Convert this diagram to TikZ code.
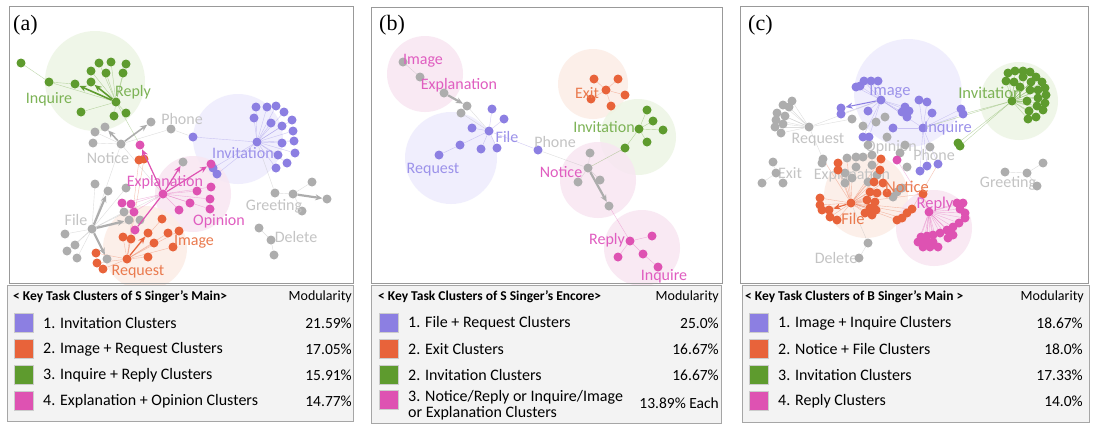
\documentclass[tikz,border=0pt]{standalone}
\usepackage{fontspec}
\setmainfont{Carlito}
\newfontfamily\tagfont{Liberation Serif}
\usetikzlibrary{arrows.meta,positioning}

\definecolor{cinv}{HTML}{8C7FE2}
\definecolor{cimg}{HTML}{E8633A}
\definecolor{cinq}{HTML}{5E9B2E}
\definecolor{cexp}{HTML}{DE52B2}
\definecolor{cgry}{HTML}{ADADAD}
\definecolor{tinv}{HTML}{9C92EA}
\definecolor{timg}{HTML}{EA7A4E}
\definecolor{tinq}{HTML}{7DB356}
\definecolor{texp}{HTML}{E05DC0}
\definecolor{tgry}{HTML}{C4C4C4}
\definecolor{hinv}{HTML}{EEECFD}
\definecolor{himg}{HTML}{FCEDE6}
\definecolor{hinq}{HTML}{EDF5E4}
\definecolor{hexp}{HTML}{F8E6F2}
\definecolor{legfill}{HTML}{F3F3F3}

\pgfdeclarelayer{hulls}
\pgfdeclarelayer{edges}
\pgfsetlayers{hulls,edges,main}

\tikzset{
  dot/.style={circle, inner sep=0pt, minimum size=9pt},
  pdot/.style={dot, fill=cinv},
  odot/.style={dot, fill=cimg},
  gdot/.style={dot, fill=cinq},
  mdot/.style={dot, fill=cexp},
  ydot/.style={dot, fill=cgry},
  edge/.style={line width=0.4pt, opacity=0.4},
  big/.style={line width=1.6pt, -{Stealth[length=7pt,width=6pt]}},
  hull/.style={opacity=0.85},
  lab/.style={font=\fontsize{16}{18}\selectfont, inner sep=0pt},
  frame/.style={draw=black!40, line width=0.6pt},
  legbox/.style={draw=black!35, fill=legfill, line width=0.5pt},
  swatch/.style={draw=black!20, minimum size=19pt, inner sep=0pt},
  legtext/.style={anchor=west, font=\fontsize{16}{16}\selectfont, inner sep=0pt, align=left},
  legnum/.style={anchor=east, font=\fontsize{15.5}{16}\selectfont, inner sep=0pt},
  legtitle/.style={anchor=west, font=\bfseries\fontsize{13.5}{15}\selectfont, inner sep=0pt},
  legmod/.style={anchor=east, font=\fontsize{14}{16}\selectfont, inner sep=0pt},
  paneltag/.style={anchor=north west, font=\tagfont\fontsize{22}{24}\selectfont, inner sep=0pt}
}

\begin{document}
\begin{tikzpicture}[x=1pt, y=-1pt]
    \useasboundingbox (0,0) rectangle (1095,429);
    \begin{pgfonlayer}{hulls}
        \fill[white] (0,0) rectangle (1095,429);
    \end{pgfonlayer}

    % ---------------- panel (a) ----------------
    \draw[frame] (9,6) rectangle (353,283);
    \node[paneltag] (taga) at (13,15) {(a)};

    % cluster hulls
    \begin{pgfonlayer}{hulls}
        \fill[hull, hinq] (95,81) circle (50);
        \fill[hull, hinv] (238,139) circle (45);
        \fill[hull, hexp] (193,194) circle (38);
        \fill[hull, himg] (145,248) circle (42);
    \end{pgfonlayer}

    % Inquire + Reply
    \node[gdot] (agh) at (116,102) {};
    \foreach \p [count=\i] in {(21,63),(49,82),(75,84),(91,82),(91,71),(99,63),(111,62),(126,64),(106,73),(123,73),(81,112),(114,116),(126,113)}
        \node[gdot] (ag\i) at \p {};

    % Notice + Phone
    \node[ydot] (ayh) at (121,144) {};
    \foreach \p [count=\i] in {(95,132),(105,127),(93,143),(151,122),(171,129),(183,162)}
        \node[ydot] (ay\i) at \p {};

    % Invitation
    \node[pdot] (aph) at (257,142) {};
    \foreach \p [count=\i] in {(256,107),(267,107),(276,106),(284,112),(292,120),(293,131),(294,141),(295,153),(287,163),(276,168),(278,155),(282,143),(282,126),(271,123),(254,118),(193,137),(213,168),(217,174)}
        \node[pdot] (ap\i) at \p {};

    % Explanation + Opinion
    \node[mdot] (amh) at (163,194) {};
    \foreach \p [count=\i] in {(140,145),(211,164),(197,191),(211,187),(190,203),(210,199),(210,209),(179,210),(122,203),(131,204),(134,212),(135,230)}
        \node[mdot] (am\i) at \p {};

    % Image + Request
    \node[odot] (aoh) at (127,259) {};
    \foreach \p [count=\i] in {(139,160),(144,159),(162,219),(148,233),(168,233),(179,231),(154,243),(173,247),(148,257),(123,237),(131,239),(96,253),(97,263),(103,269)}
        \node[odot] (ao\i) at \p {};

    % File
    \node[ydot] (afh) at (92,229) {};
    \foreach \p [count=\i] in {(95,184),(108,191),(126,188),(124,212),(129,220),(140,220),(65,234),(75,245),(67,251),(77,258),(107,259)}
        \node[ydot] (af\i) at \p {};

    % Greeting, Delete
    \node[ydot] (aeh) at (293,194) {};
    \foreach \p [count=\i] in {(312,182),(275,193),(327,199),(302,211)}
        \node[ydot] (ae\i) at \p {};
    \foreach \p [count=\i] in {(259,228),(271,240),(274,255)}
        \node[ydot] (ad\i) at \p {};

    \begin{pgfonlayer}{edges}
        \foreach \i in {2,5,6,7,8,9,10,11,12,13} \draw[edge, cinq] (agh) -- (ag\i);
        \draw[edge, cinq] (ag1) -- (ag2);
        \draw[edge, cinq] (ag2) -- (ag3);
        \draw[edge, cinq] (agh) -- (am1);
        \foreach \i in {1,3,5} \draw[edge, cgry] (ayh) -- (ay\i);
        \foreach \i in {1,...,18} \draw[edge, cinv] (aph) -- (ap\i);
        \foreach \i in {3,...,11} \draw[edge, cexp] (amh) -- (am\i);
        \foreach \i in {1,2,3,5,6,7,8,9,10,11,12,13,14} \draw[edge, cimg] (aoh) -- (ao\i);
        \foreach \i in {1,3,4,6,7,8,9,10} \draw[edge, cgry] (afh) -- (af\i);
        \foreach \i in {1,2,4} \draw[edge, cgry] (aeh) -- (ae\i);
        \draw[edge, cgry] (ad1) -- (ad2);
        \draw[edge, cgry] (ad2) -- (ad3);
        \draw[edge, cgry] (aph) -- (ae2);
        \draw[edge, cgry] (ayh) -- (amh);
        \draw[edge, cgry] (ay5) -- (ap16);
        \draw[edge, cgry] (afh) -- (amh);
        \draw[edge, cgry] (ayh) -- (afh);
    \end{pgfonlayer}

    \draw[big, cinq] (agh) -- (ag3);
    \draw[big, cinq] (agh) -- (ag4);
    \draw[big, cgry] (ayh) -- (ay2);
    \draw[big, cgry] (ayh) -- (ay4);
    \draw[big, cexp, line width=1.2pt] (amh) -- (am1);
    \draw[big, cexp, line width=1.2pt] (amh) -- (ay6);
    \draw[big, cexp, line width=1.2pt] (amh) -- (am2);
    \draw[cexp, line width=1.2pt] (amh) -- (am12);
    \draw[big, cimg, line width=1.2pt] (aoh) -- (ao4);
    \draw[big, cgry, line width=2.2pt] (afh) -- (af2);
    \draw[big, cgry, line width=2.2pt] (afh) -- (af5);
    \draw[big, cgry, line width=2.2pt] (afh) -- (af11);
    \draw[big, cgry, line width=2.2pt] (aeh) -- (ae3);

    % labels
    \node[lab, tinq] (laInq) at (49,99) {Inquire};
    \node[lab, tinq] (laRep) at (133,92) {Reply};
    \node[lab, tgry] (laPho) at (182,119) {Phone};
    \node[lab, tgry] (laNot) at (108,158) {Notice};
    \node[lab, tinv] (laInv) at (243,153) {Invitation};
    \node[lab, texp] (laExp) at (165,182) {Explanation};
    \node[lab, texp] (laOpi) at (219,221) {Opinion};
    \node[lab, tgry] (laFil) at (76,220) {File};
    \node[lab, timg] (laImg) at (194,242) {Image};
    \node[lab, timg] (laReq) at (138,272) {Request};
    \node[lab, tgry] (laGre) at (274,206) {Greeting};
    \node[lab, tgry] (laDel) at (296,237) {Delete};

    % legend (a)
    \draw[legbox] (7,285) rectangle (353,421);
    \node[legtitle] (lta) at (13,297) {< Key Task Clusters of S Singer's Main>};
    \node[legmod] (lma) at (352,297) {Modularity};
    \foreach \c/\t/\v [count=\i] in {cinv/1. Invitation Clusters/21.59\%, cimg/2. Image + Request Clusters/17.05\%, cinq/3. Inquire + Reply Clusters/15.91\%, cexp/4. Explanation + Opinion Clusters/14.77\%} {
        \node[swatch, fill=\c] (lsa\i) at (23.5,297+26*\i) {};
        \node[legtext] (lxa\i) at (43,297+26*\i) {\t};
        \node[legnum] (lva\i) at (352,297+26*\i) {\v};
    }

    % ---------------- panel (b) ----------------
    \draw[frame] (371,7) rectangle (722,283);
    \node[paneltag] (tagb) at (379,15) {(b)};

    \begin{pgfonlayer}{hulls}
        \fill[hull, hexp] (425,74) circle (38);
        \fill[hull, hinv] (451,158) circle (46);
        \fill[hull, himg] (593,84) circle (35);
        \fill[hull, hinq] (638,137) circle (38);
        \fill[hull, hexp] (598,180) circle (38);
        \fill[hull, hexp] (642,248) circle (38);
    \end{pgfonlayer}

    % Image / Explanation chain
    \foreach \p [count=\i] in {(403,62),(420,77),(444,93),(467,106),(461,113)}
        \node[ydot] (bx\i) at \p {};
    % File + Request
    \node[pdot] (bph) at (489,131) {};
    \foreach \p [count=\i] in {(492,109),(504,119),(472,128),(460,145),(481,149),(497,148),(439,155),(538,150)}
        \node[pdot] (bp\i) at \p {};
    % Exit
    \node[odot] (boh) at (606,90) {};
    \foreach \p [count=\i] in {(594,79),(618,79),(591,99),(625,95),(611,106)}
        \node[odot] (bo\i) at \p {};
    % Invitation
    \node[gdot] (bgh) at (639,129) {};
    \foreach \p [count=\i] in {(647,110),(653,121),(663,130),(647,142),(625,148)}
        \node[gdot] (bg\i) at \p {};
    % Notice
    \node[ydot] (byh) at (588,168) {};
    \foreach \p [count=\i] in {(590,153),(600,180),(578,182),(609,206)}
        \node[ydot] (by\i) at \p {};
    % Reply / Inquire
    \node[mdot] (bmh) at (630,241) {};
    \foreach \p [count=\i] in {(652,236),(618,257),(643,254),(658,267)}
        \node[mdot] (bm\i) at \p {};

    \begin{pgfonlayer}{edges}
        \draw[edge, cgry] (bx1) -- (bx2);
        \draw[edge, cgry] (bx2) -- (bx3);
        \draw[edge, cgry] (bx4) -- (bph);
        \draw[edge, cgry] (bx5) -- (bph);
        \foreach \i in {1,...,6,8} \draw[edge, cinv] (bph) -- (bp\i);
        \draw[edge, cinv] (bp7) -- (bp4);
        \foreach \i in {1,...,5} \draw[edge, cimg] (boh) -- (bo\i);
        \foreach \i in {1,...,5} \draw[edge, cinq] (bgh) -- (bg\i);
        \foreach \i in {1,2,3} \draw[edge, cgry] (byh) -- (by\i);
        \foreach \i in {1,2,3} \draw[edge, cexp] (bmh) -- (bm\i);
        \draw[edge, cexp] (bm3) -- (bm4);
        \draw[edge, cexp] (bmh) -- (by4);
        \draw[edge, cgry] (bp8) -- (byh);
        \draw[edge, cinq] (bg5) -- (byh);
    \end{pgfonlayer}
    \draw[big, cgry, line width=2.2pt] (bx3) -- (bx4);
    \draw[big, cgry, line width=2.2pt] (byh) -- (by4);

    \node[lab, texp] (lbImg) at (423,61) {Image};
    \node[lab, texp] (lbExp) at (459,85) {Explanation};
    \node[lab, tinv] (lbFil) at (507,137) {File};
    \node[lab, tinv] (lbReq) at (433,170) {Request};
    \node[lab, tgry] (lbPho) at (555,142) {Phone};
    \node[lab, timg] (lbExi) at (587,93) {Exit};
    \node[lab, tinq] (lbInv) at (604,127) {Invitation};
    \node[lab, texp] (lbNot) at (561,172) {Notice};
    \node[lab, texp] (lbRep) at (607,240) {Reply};
    \node[lab, texp] (lbInq) at (664,276) {Inquire};

    % legend (b)
    \draw[legbox] (371,285) rectangle (721,423);
    \node[legtitle] (ltb) at (378,297) {< Key Task Clusters of S Singer's Encore>};
    \node[legmod] (lmb) at (719,297) {Modularity};
    \foreach \c/\t/\v [count=\i] in {cinv/1. File + Request Clusters/25.0\%, cimg/2. Exit Clusters/16.67\%, cinq/2. Invitation Clusters/16.67\%} {
        \node[swatch, fill=\c] (lsb\i) at (388.5,297+26*\i) {};
        \node[legtext] (lxb\i) at (408,297+26*\i) {\t};
        \node[legnum] (lvb\i) at (719,297+26*\i) {\v};
    }
    \node[swatch, fill=cexp] (lsb4) at (388.5,400) {};
    \node[legtext] (lxb4) at (408,405) {3. Notice/Reply or Inquire/Image\\or Explanation Clusters};
    \node[legnum] (lvb4) at (719,403) {13.89\% Each};

    % ---------------- panel (c) ----------------
    \draw[frame] (740,6) rectangle (1088,283);
    \node[paneltag] (tagc) at (748,15) {(c)};

    \begin{pgfonlayer}{hulls}
        \fill[hull, hinv] (908,93) circle (54);
        \fill[hull, hinq] (1019,101) circle (39);
        \fill[hull, himg] (866,196) circle (42);
        \fill[hull, hexp] (934,228) circle (38);
    \end{pgfonlayer}

    % gray labels lie under the dots
    \node[lab, tgry] (lcReq) at (818,140) {Request};
    \node[lab, tgry] (lcOpi) at (891,147) {Opinion};
    \node[lab, tgry] (lcPho) at (934,155) {Phone};
    \node[lab, tgry] (lcExi) at (790,173) {Exit};
    \node[lab, tgry] (lcExp) at (852,175) {Explanation};
    \node[lab, tgry] (lcGre) at (1008,183) {Greeting};
    \node[lab, tgry] (lcDel) at (836,258) {Delete};

    \begin{scope}[every node/.append style={minimum size=8pt}]
    % Image + Inquire
    \node[pdot] (cih) at (881,100) {};
    \foreach \p [count=\i] in {(856,87),(860,86),(864,81),(871,81),(878,81),(841,108),(841,114),(868,111),(905,107),(902,112),(907,117),(909,111),(863,137),(869,137)}
        \node[pdot] (ci\i) at \p {};
    \node[pdot] (cqh) at (923,128) {};
    \foreach \p [count=\i] in {(919,100),(927,102),(932,113),(893,128),(961,109),(963,114),(920,171),(927,166),(938,164)}
        \node[pdot] (cq\i) at \p {};
    % Invitation
    \node[gdot] (cgh) at (1012,101) {};
    \foreach \p [count=\i] in {(1008,73),(1015,71),(1023,71),(1030,72),(1036,77),(1042,82),(1045,88),(1046,95),(1045,103),(1043,110),(1036,117),(1028,119),(1029,111),(1037,106),(1038,98),(1038,90),(1030,90),(1031,82),(1023,77),(1014,82),(1006,81),(1020,87),(1027,101),(958,143),(960,146)}
        \node[gdot] (cg\i) at \p {};
    % Request, Exit
    \node[ydot] (crh) at (809,127) {};
    \foreach \p [count=\i] in {(792,101),(789,107),(783,105),(785,116),(777,113),(776,120),(783,124),(775,127),(781,133)}
        \node[ydot] (cr\i) at \p {};
    \node[ydot] (cxh) at (776,173) {};
    \foreach \p [count=\i] in {(773,162),(762,183),(783,183)}
        \node[ydot] (cx\i) at \p {};
    % middle gray tasks
    \foreach \p [count=\i] in {(852,119),(863,126),(876,122),(885,117),(887,137),(868,145),(905,145),(900,153),(930,147),(907,167),(823,159),(822,163),(847,158),(856,157),(863,157),(872,155),(856,167),(872,165),(845,173),(852,178),(845,183),(868,182),(877,175),(897,192),(902,188),(893,197)}
        \node[ydot] (cz\i) at \p {};
    % Notice + File
    \node[odot] (coh) at (851,203) {};
    \foreach \p [count=\i] in {(820,198),(820,205),(822,210),(829,210),(830,217),(837,220),(838,163),(838,170),(881,159),(880,170),(874,182),(883,183),(870,192),(877,193),(887,193),(867,200),(875,202),(870,208),(876,210),(872,215),(865,213),(897,220),(902,218),(907,213),(912,209),(923,194)}
        \node[odot] (co\i) at \p {};
    % Reply
    \node[mdot] (cmh) at (929,212) {};
    \foreach \p [count=\i] in {(897,160),(957,203),(963,203),(960,209),(965,213),(965,218),(959,223),(953,227),(947,230),(940,233),(933,235),(927,236),(921,237),(918,242),(926,241),(933,242),(938,247),(930,247),(923,247),(953,235),(948,238)}
        \node[mdot] (cm\i) at \p {};
    % Greeting, Delete
    \foreach \p [count=\i] in {(1005,172),(1027,173),(1043,163),(1037,186)}
        \node[ydot] (ce\i) at \p {};
    \foreach \p [count=\i] in {(868,243),(859,258)}
        \node[ydot] (cd\i) at \p {};
    \end{scope}

    \begin{pgfonlayer}{edges}
        \foreach \i in {1,...,5,7,8,9,10,11,12,13,14} \draw[edge, cinv] (cih) -- (ci\i);
        \foreach \i in {1,...,9} \draw[edge, cinv] (cqh) -- (cq\i);
        \draw[edge, cinv] (cih) -- (cqh);
        \foreach \i in {1,...,25} \draw[edge, cinq] (cgh) -- (cg\i);
        \draw[edge, cinq] (cqh) -- (cgh);
        \draw[edge, cinq] (cq6) -- (cgh);
        \foreach \i in {1,...,9} \draw[edge, cgry] (crh) -- (cr\i);
        \draw[edge, cgry] (crh) -- (cih);
        \draw[edge, cgry] (crh) -- (cz1);
        \draw[edge, cgry] (crh) -- (cz11);
        \foreach \i in {1,2,3} \draw[edge, cgry] (cxh) -- (cx\i);
        \foreach \i in {1,...,26} \draw[edge, cimg] (coh) -- (co\i);
        \foreach \i in {11,13,19,20,22} \draw[edge, cimg] (coh) -- (cz\i);
        \foreach \i in {1,...,21} \draw[edge, cexp] (cmh) -- (cm\i);
        \draw[edge, cimg] (co26) -- (cmh);
        \draw[edge, cimg] (co25) -- (cq9);
        \draw[edge, cgry] (ce1) -- (ce2);
        \draw[edge, cgry] (ce2) -- (ce3);
        \draw[edge, cgry] (ce2) -- (ce4);
        \draw[edge, cgry] (cd1) -- (cd2);
        \draw[edge, cgry] (cd1) -- (coh);
    \end{pgfonlayer}
    \draw[big, cinv, line width=1pt] (cih) -- (ci6);
    \draw[big, cimg, line width=1pt] (coh) -- (co4);

    \node[lab, tinv, font=\fontsize{16.5}{18}\selectfont] (lcImg) at (890,92) {Image};
    \node[lab, tinq, font=\fontsize{16.5}{18}\selectfont] (lcInv) at (990,93) {Invitation};
    \node[lab, tinv, font=\fontsize{16.5}{18}\selectfont] (lcInq) at (948,128) {Inquire};
    \node[lab, timg, font=\fontsize{16.5}{18}\selectfont] (lcNot) at (907,187) {Notice};
    \node[lab, texp, font=\fontsize{16.5}{18}\selectfont] (lcRep) at (935,204) {Reply};
    \node[lab, timg, font=\fontsize{16.5}{18}\selectfont] (lcFil) at (853,219) {File};

    % legend (c)
    \draw[legbox] (742,285) rectangle (1089,422);
    \node[legtitle] (ltc) at (745,297) {< Key Task Clusters of B Singer's Main >};
    \node[legmod] (lmc) at (1084,297) {Modularity};
    \foreach \c/\t/\v [count=\i] in {cinv/1. Image + Inquire Clusters/18.67\%, cimg/2. Notice + File Clusters/18.0\%, cinq/3. Invitation Clusters/17.33\%, cexp/4. Reply Clusters/14.0\%} {
        \node[swatch, fill=\c] (lsc\i) at (759,297+26*\i) {};
        \node[legtext] (lxc\i) at (778,297+26*\i) {\t};
        \node[legnum] (lvc\i) at (1083,297+26*\i) {\v};
    }
\end{tikzpicture}
\end{document}
